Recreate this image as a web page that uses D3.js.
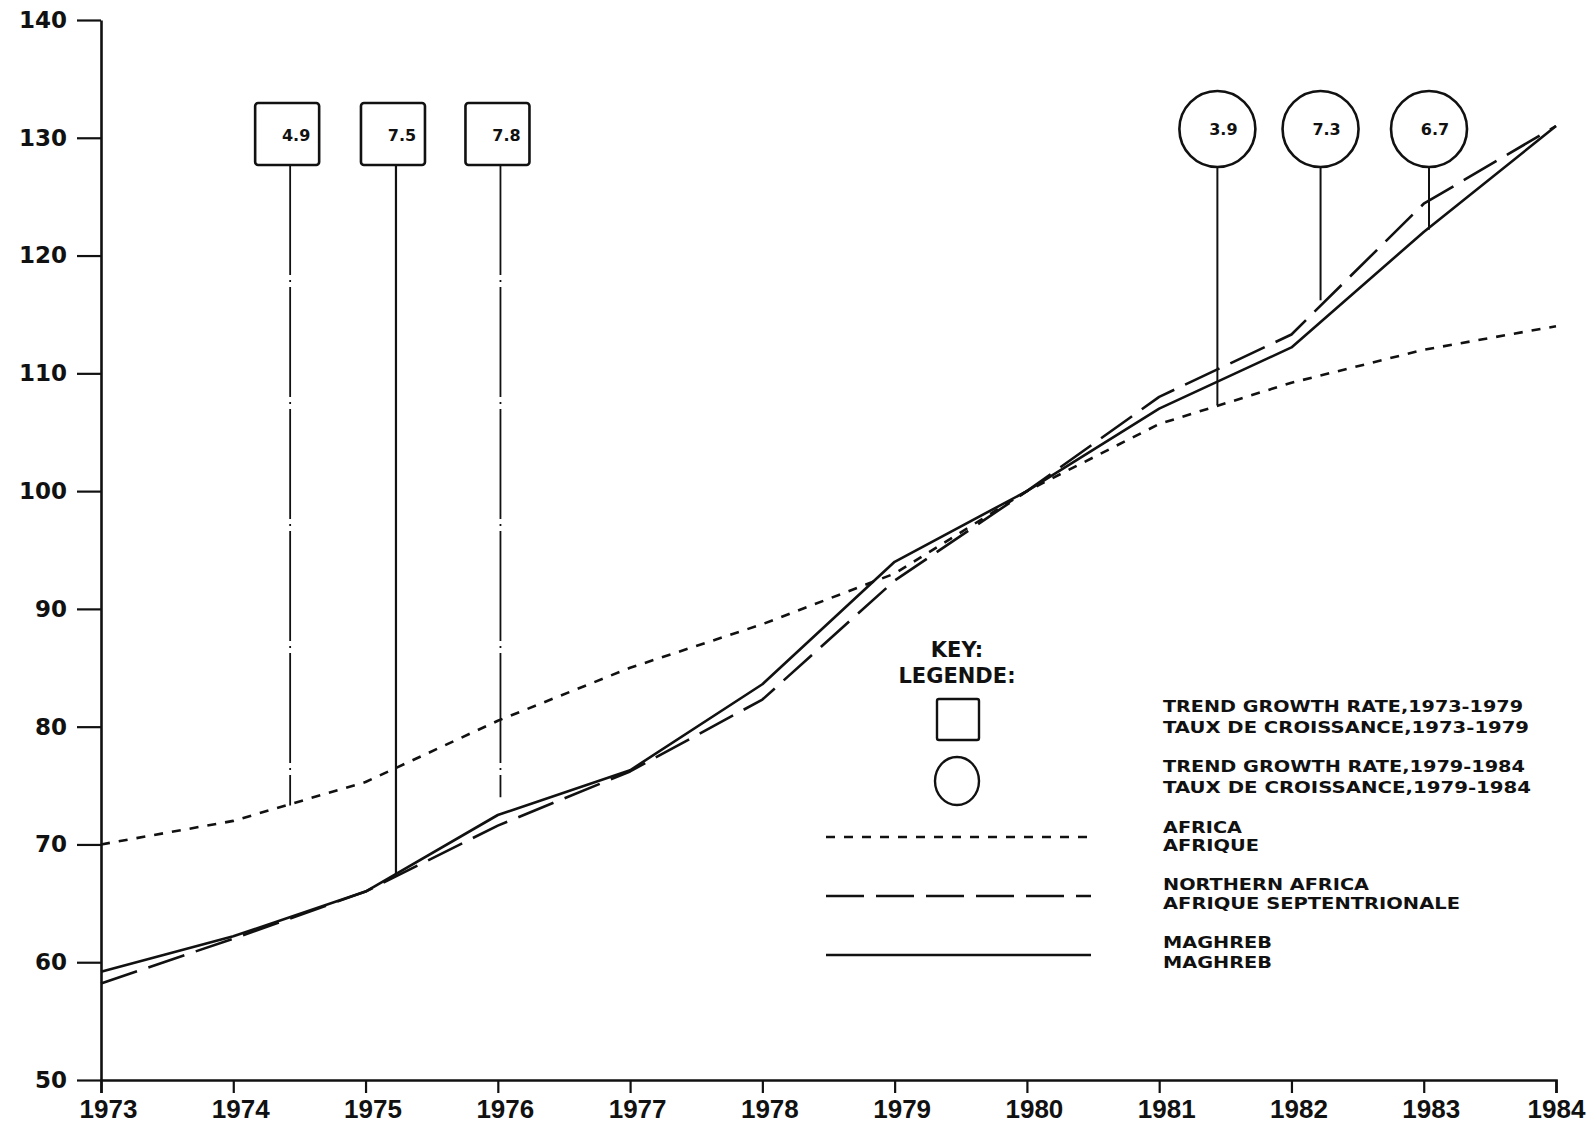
<!DOCTYPE html>
<html><head><meta charset="utf-8">
<script src="https://cdn.jsdelivr.net/npm/d3@7"></script>
<style>body{margin:0;background:#fff}svg{display:block}</style>
</head><body>
<script>
const years = [1973,1974,1975,1976,1977,1978,1979,1980,1981,1982,1983,1984];
const yTicks = [50,60,70,80,90,100,110,120,130,140];
const africa   = [70, 72, 75.3, 80.5, 85, 88.7, 93, 100, 105.7, 109.2, 112, 114];
const northern = [58.2, 62, 66, 71.6, 76.2, 82.3, 92.4, 100, 108, 113.3, 124.4, 131];
const maghreb  = [59.2, 62.2, 66, 72.5, 76.3, 83.6, 94, 100, 107, 112.2, 122, 131];
const boxLabels = ["4.9","7.5","7.8"];
const boxYears = [1974.43, 1975.23, 1976.02];
const boxEnds = [73.3, 67.4, 74.0];
const circleLabels = ["3.9","7.3","6.7"];
const circleYears = [1981.44, 1982.22, 1983.04];
const circleEnds = [107.3, 116.2, 122.2];
const legendItems = [
  ["TREND GROWTH RATE,1973-1979","TAUX DE CROISSANCE,1973-1979"],
  ["TREND GROWTH RATE,1979-1984","TAUX DE CROISSANCE,1979-1984"],
  ["AFRICA","AFRIQUE"],
  ["NORTHERN AFRICA","AFRIQUE SEPTENTRIONALE"],
  ["MAGHREB","MAGHREB"]
];

const W=1595,H=1128;
const svg=d3.select("body").append("svg").attr("width",W).attr("height",H);
const x=d3.scaleLinear().domain([1973,1984]).range([101,1556]);
const y=d3.scaleLinear().domain([50,140]).range([1080,20]);
const ink="#111";

// axes
const xa=svg.append("g").attr("transform","translate(0,1080)")
  .call(d3.axisBottom(x).tickValues(years).tickFormat(d3.format("d")).tickSize(13).tickPadding(7));
xa.selectAll("text").attr("font-family","Liberation Sans, Arial, sans-serif").attr("font-weight","bold")
  .attr("font-size",26).attr("fill",ink).attr("dx",(d,i)=>i===years.length-1?0:7);
const ya=svg.append("g").attr("transform","translate(101,0)")
  .call(d3.axisLeft(y).tickValues(yTicks).tickSize(24).tickPadding(10).tickSizeOuter(0));
ya.selectAll("text").attr("font-family","DejaVu Sans, sans-serif").attr("font-weight","bold")
  .attr("font-size",23).attr("fill",ink);
svg.selectAll(".domain").attr("stroke",ink).attr("stroke-width",2.6);
svg.selectAll(".tick line").attr("stroke",ink).attr("stroke-width",2.2);

// series
const line=d3.line().x((d,i)=>x(years[i])).y(d=>y(d)).curve(d3.curveLinear);
const series=[
  {v:africa,dash:"9,9"},
  {v:northern,dash:"38,12"},
  {v:maghreb,dash:null}
];
series.forEach(s=>{
  svg.append("path").datum(s.v).attr("d",line).attr("fill","none")
    .attr("stroke",ink).attr("stroke-width",2.6).attr("stroke-linejoin","round").attr("stroke-dasharray",s.dash);
});

// box annotations
const boxTop=103, boxH=62, boxW=64;
boxLabels.forEach((t,i)=>{
  const cx=x(boxYears[i]);
  svg.append("line").attr("x1",cx).attr("x2",cx).attr("y1",boxTop+boxH).attr("y2",y(boxEnds[i]))
    .attr("stroke",ink).attr("stroke-width",i===1?2.2:1.8)
    .attr("stroke-dasharray",i===1?null:"110,5,2,5");
  svg.append("rect").attr("x",cx-boxW/2-3).attr("y",boxTop).attr("width",boxW).attr("height",boxH)
    .attr("rx",3).attr("fill","#fff").attr("stroke",ink).attr("stroke-width",2.6);
  svg.append("text").attr("x",cx+6).attr("y",boxTop+38).attr("text-anchor","middle")
    .attr("font-family","DejaVu Sans, sans-serif").attr("font-weight","bold").attr("font-size",16)
    .attr("fill",ink).text(t);
});

// circle annotations
const cy=129, r=38;
circleLabels.forEach((t,i)=>{
  const cx=x(circleYears[i]);
  svg.append("line").attr("x1",cx).attr("x2",cx).attr("y1",cy+r).attr("y2",y(circleEnds[i]))
    .attr("stroke",ink).attr("stroke-width",2);
  svg.append("circle").attr("cx",cx).attr("cy",cy).attr("r",r)
    .attr("fill","#fff").attr("stroke",ink).attr("stroke-width",2.6);
  svg.append("text").attr("x",cx+6).attr("y",cy+6).attr("text-anchor","middle")
    .attr("font-family","DejaVu Sans, sans-serif").attr("font-weight","bold").attr("font-size",16)
    .attr("fill",ink).text(t);
});

// legend
const lg=svg.append("g");
lg.append("text").attr("x",957).attr("y",657).attr("text-anchor","middle")
  .attr("font-family","DejaVu Sans, sans-serif").attr("font-weight","bold").attr("font-size",21).attr("fill",ink).text("KEY:");
lg.append("text").attr("x",957).attr("y",683).attr("text-anchor","middle")
  .attr("font-family","DejaVu Sans, sans-serif").attr("font-weight","bold").attr("font-size",21).attr("fill",ink).text("LEGENDE:");
lg.append("rect").attr("x",937).attr("y",699).attr("width",42).attr("height",41).attr("rx",2)
  .attr("fill","none").attr("stroke",ink).attr("stroke-width",2.4);
lg.append("ellipse").attr("cx",957).attr("cy",781).attr("rx",22).attr("ry",24)
  .attr("fill","none").attr("stroke",ink).attr("stroke-width",2.4);
const legLineY=[837,896,955];
series.forEach((s,i)=>{
  lg.append("line").attr("x1",826).attr("x2",1091).attr("y1",legLineY[i]).attr("y2",legLineY[i])
    .attr("stroke",ink).attr("stroke-width",2.6).attr("stroke-dasharray",s.dash);
});
const textY=[[712,733],[772,793],[833,851],[890,909],[948,968]];
const textW=[[360,366],[362,368],[79,96],[206,297],[109,109]];
legendItems.forEach((pair,i)=>{
  pair.forEach((t,j)=>{
    lg.append("text").attr("x",1163).attr("y",textY[i][j])
      .attr("font-family","DejaVu Sans, sans-serif").attr("font-weight","bold").attr("font-size",15)
      .attr("fill",ink).attr("textLength",textW[i][j]).attr("lengthAdjust","spacingAndGlyphs").text(t);
  });
});
</script>
</body></html>
